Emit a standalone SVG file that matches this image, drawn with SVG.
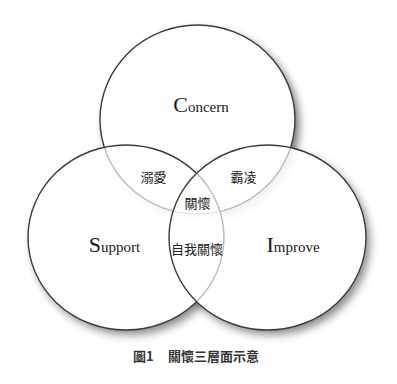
<svg xmlns="http://www.w3.org/2000/svg" width="397" height="384" viewBox="0 0 397 384">
<defs>
<filter id="sh" x="-20%" y="-20%" width="150%" height="150%">
<feGaussianBlur in="SourceAlpha" stdDeviation="4"/>
<feOffset dx="4" dy="5" result="b"/>
<feFlood flood-color="#000" flood-opacity="0.45"/>
<feComposite in2="b" operator="in"/>
</filter>
<style>
.shadow{fill:#000;filter:url(#sh)}
.body{stroke:#3c3c3c;stroke-width:1.4}
.lat{font-family:"Liberation Serif",serif;fill:#1a1a1a}
.big{font-size:22px}
.sm{font-size:15px}
.cjk{font-family:"Noto Sans CJK TC","Noto Sans CJK SC",sans-serif;font-size:13px;fill:#222;text-anchor:middle;dominant-baseline:central}
.cap{font-family:"Noto Sans CJK TC","Noto Sans CJK SC",sans-serif;font-size:13px;fill:#333;font-weight:bold;dominant-baseline:central}
</style>
</defs>
<rect width="397" height="384" fill="#fff"/>
<g id="shadows">
<ellipse class="shadow" cx="197.5" cy="119.5" rx="97.5" ry="94.5"/>
<ellipse class="shadow" cx="126" cy="237.5" rx="98" ry="92.5"/>
<ellipse class="shadow" cx="267.5" cy="237.5" rx="98.5" ry="92.5"/>
<ellipse cx="126" cy="237.5" rx="98" ry="92.5" fill="#fff"/>
<ellipse cx="267.5" cy="237.5" rx="98.5" ry="92.5" fill="#fff"/>
<ellipse class="shadow" cx="197.5" cy="119.5" rx="97.5" ry="94.5" opacity="0.35"/>
</g>
<g id="concern">
<ellipse class="body" cx="197.5" cy="119.5" rx="97.5" ry="94.5" fill="#fff"/>
<text class="lat" x="201" y="112" text-anchor="middle"><tspan class="big">C</tspan><tspan class="sm">oncern</tspan></text>
</g>
<g id="support">
<ellipse class="body" cx="126" cy="237.5" rx="98" ry="92.5" fill="#fff" fill-opacity="0.65"/>
<text class="lat" x="114.5" y="252" text-anchor="middle"><tspan class="big">S</tspan><tspan class="sm">upport</tspan></text>
</g>
<g id="improve">
<ellipse class="body" cx="267.5" cy="237.5" rx="98.5" ry="92.5" fill="#fff" fill-opacity="0.65"/>
<text class="lat" x="293" y="252" text-anchor="middle"><tspan class="big">I</tspan><tspan class="sm">mprove</tspan></text>
</g>
<g id="labels">
<text class="cjk" x="153.5" y="176">溺愛</text>
<text class="cjk" x="243.5" y="176">霸凌</text>
<text class="cjk" x="197.5" y="202">關懷</text>
<text class="cjk" x="197" y="248">自我關懷</text>
</g>
<g id="caption">
<text class="cap" y="355"><tspan x="133">圖1</tspan><tspan x="168">關懷三層面示意</tspan></text>
</g>
</svg>
